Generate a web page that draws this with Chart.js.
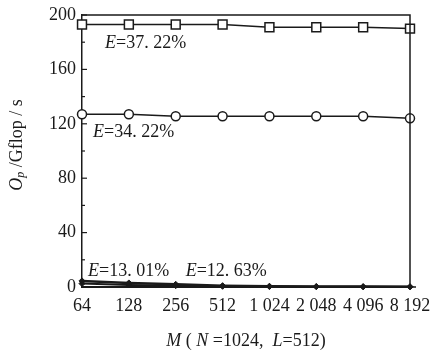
<!DOCTYPE html>
<html>
<head>
<meta charset="utf-8">
<script src="https://cdn.jsdelivr.net/npm/chart.js@4"></script>
<style>
  html, body { margin: 0; padding: 0; background: #fff; }
  #wrap { width: 432px; height: 353px; }
</style>
</head>
<body>
<div id="wrap"><canvas id="c" width="432" height="353"></canvas></div>
<script>
// Problem size M (N=1024, L=512)
const sizes = ['64', '128', '256', '512', '1 024', '2 048', '4 096', '8 192'];

// Achieved performance, Gflop/s
const perfSquare = [193, 193, 193, 193, 191, 191, 191, 190];
const perfCircle = [127, 127, 125.5, 125.5, 125.5, 125.5, 125.5, 124];
const perfLowA   = [4.5, 3, 2, 1, 0.6, 0.4, 0.3, 0.2];
const perfLowB   = [2.5, 1.5, 1, 0.5, 0.3, 0.2, 0.1, 0.1];

// Efficiency annotations
const effSquare = '=37. 22%';
const effCircle = '=34. 22%';
const effLowA   = '=13. 01%';
const effLowB   = '=12. 63%';

// Y axis range and tick steps
const yMin = 0, yMax = 200, yMajor = 40, yMinor = 20;

const FONT = '"Liberation Serif", "DejaVu Serif", serif';
const INK = '#1a1a1a';

function richWidth(ctx, parts) {
  let w = 0;
  for (const p of parts) {
    ctx.font = (p.italic ? 'italic ' : '') + (p.size || 18) + 'px ' + FONT;
    w += ctx.measureText(p.t).width;
  }
  return w;
}

function drawRich(ctx, parts, x, y, align) {
  ctx.save();
  ctx.fillStyle = INK;
  ctx.textBaseline = 'middle';
  ctx.textAlign = 'left';
  let cx = align === 'center' ? x - richWidth(ctx, parts) / 2 : x;
  for (const p of parts) {
    ctx.font = (p.italic ? 'italic ' : '') + (p.size || 18) + 'px ' + FONT;
    ctx.fillText(p.t, cx, y + (p.dy || 0));
    cx += ctx.measureText(p.t).width;
  }
  ctx.restore();
}

const framePlugin = {
  id: 'frame',
  afterDatasetsDraw(chart) {
    const { ctx, chartArea: a, scales } = chart;
    const ys = scales.y, xs = scales.x;
    ctx.save();
    ctx.strokeStyle = INK;
    ctx.lineWidth = 1.5;
    // top and right edges of the plot box, plus the short axis stub
    ctx.beginPath();
    ctx.moveTo(a.left, a.top);
    ctx.lineTo(a.right, a.top);
    ctx.lineTo(a.right, a.bottom);
    ctx.moveTo(a.right, a.bottom);
    ctx.lineTo(a.right + 6, a.bottom);
    ctx.stroke();
    // inward y ticks
    ctx.lineWidth = 1.2;
    for (let v = yMin; v <= yMax; v += yMinor) {
      const py = ys.getPixelForValue(v);
      const len = (v % yMajor === 0) ? 5 : 3;
      ctx.beginPath();
      ctx.moveTo(a.left, py);
      ctx.lineTo(a.left + len, py);
      ctx.stroke();
    }
    ctx.restore();

    // efficiency labels next to each curve
    const x0 = xs.getPixelForValue(0);
    drawRich(ctx, [{ t: 'E', italic: true }, { t: effSquare }],
      x0 + 23, ys.getPixelForValue(perfSquare[0]) + 19);
    drawRich(ctx, [{ t: 'E', italic: true }, { t: effCircle }],
      x0 + 11, ys.getPixelForValue(perfCircle[0]) + 18);
    const yLow = ys.getPixelForValue(0) - 16;
    drawRich(ctx, [{ t: 'E', italic: true }, { t: effLowA }], x0 + 6, yLow);
    drawRich(ctx, [{ t: 'E', italic: true }, { t: effLowB }],
      xs.getPixelForValue(2) + 10, yLow);

    // axis titles
    drawRich(ctx, [
      { t: 'M', italic: true }, { t: ' ( ' }, { t: 'N', italic: true },
      { t: ' =1024,  ' }, { t: 'L', italic: true }, { t: '=512)' }
    ], (a.left + a.right) / 2, 341, 'center');

    ctx.save();
    ctx.translate(17, 145);
    ctx.rotate(-Math.PI / 2);
    drawRich(ctx, [
      { t: 'O', italic: true }, { t: 'p', italic: true, size: 12, dy: 4 },
      { t: ' /Gflop / s' }
    ], 0, 0, 'center');
    ctx.restore();
  }
};

const common = {
  borderColor: INK,
  pointBorderColor: INK,
  tension: 0,
  clip: false
};

new Chart(document.getElementById('c'), {
  type: 'line',
  data: {
    labels: sizes,
    datasets: [
      Object.assign({}, common, {
        data: perfSquare, borderWidth: 1.5,
        pointStyle: 'rect', pointRadius: 6.3,
        pointBackgroundColor: '#fff', pointBorderWidth: 1.5
      }),
      Object.assign({}, common, {
        data: perfCircle, borderWidth: 1.5,
        pointStyle: 'circle', pointRadius: 4.5,
        pointBackgroundColor: '#fff', pointBorderWidth: 1.5
      }),
      Object.assign({}, common, {
        data: perfLowA, borderWidth: 2.5,
        pointStyle: 'rectRot', pointRadius: 3,
        pointBackgroundColor: INK, pointBorderWidth: 1
      }),
      Object.assign({}, common, {
        data: perfLowB, borderWidth: 2,
        pointStyle: 'rectRot', pointRadius: 3,
        pointBackgroundColor: INK, pointBorderWidth: 1
      })
    ]
  },
  options: {
    responsive: false,
    animation: false,
    devicePixelRatio: 1,
    layout: { padding: { left: 0, right: 22, top: 15, bottom: 0 } },
    plugins: { legend: { display: false }, tooltip: { enabled: false } },
    elements: { point: { hoverRadius: 0 } },
    scales: {
      x: {
        type: 'category',
        offset: false,
        grid: { drawOnChartArea: false, drawTicks: false },
        border: { display: true, color: INK, width: 2 },
        ticks: {
          color: INK, padding: 8, maxRotation: 0, autoSkip: false,
          font: { family: FONT, size: 18 }
        },
        afterFit(scale) {
          scale.height = 66;
          scale.paddingLeft = 0;
          scale.paddingRight = 0;
        }
      },
      y: {
        min: yMin, max: yMax,
        grid: { drawOnChartArea: false, drawTicks: false },
        border: { display: true, color: INK, width: 1.5 },
        ticks: {
          stepSize: yMajor, color: INK, padding: 6,
          font: { family: FONT, size: 18 }
        },
        afterFit(scale) {
          scale.width = 82;
          scale.paddingTop = 0;
          scale.paddingBottom = 0;
        }
      }
    }
  },
  plugins: [framePlugin]
});
</script>
</body>
</html>
